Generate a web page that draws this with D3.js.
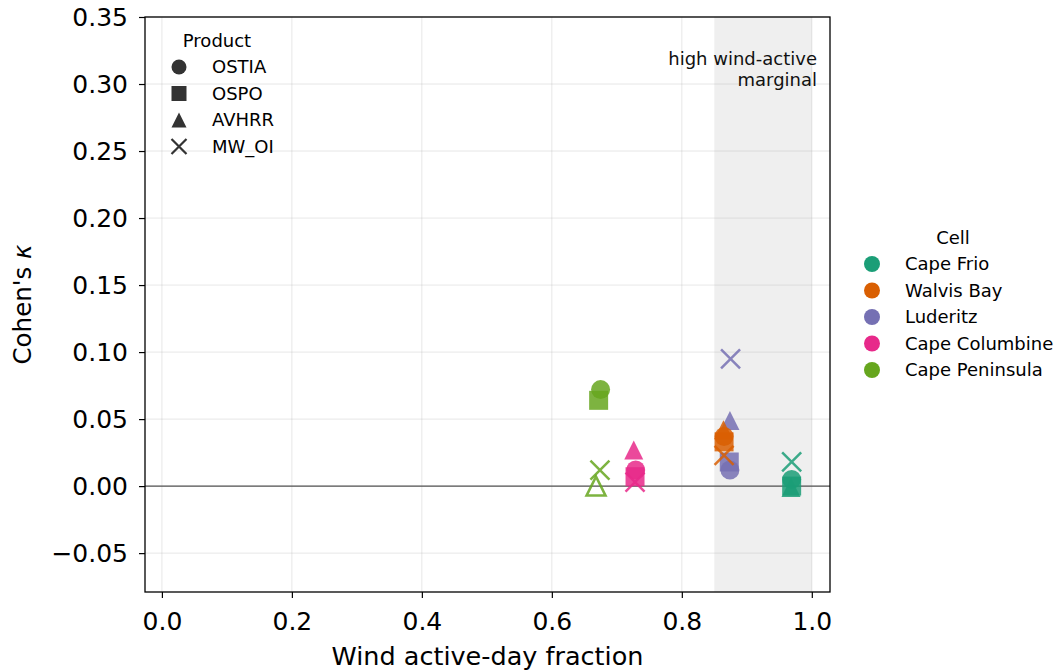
<!DOCTYPE html>
<html>
<head>
<meta charset="utf-8">
<script src="https://cdn.jsdelivr.net/npm/d3@7"></script>
<style>
  body { margin: 0; background: #fff; }
  svg { font-family: "DejaVu Sans", sans-serif; }
</style>
</head>
<body>
<svg id="chart" width="1055" height="672"></svg>
<script>
// data
const cells = ["Cape Frio", "Walvis Bay", "Luderitz", "Cape Columbine", "Cape Peninsula"];
const cellColors = ["#1b9e77", "#d95f02", "#7570b3", "#e7298a", "#66a61e"];
const products = ["OSTIA", "OSPO", "AVHRR", "MW_OI"];
const productShapes = ["circle", "square", "triangle", "x"];

// wind active-day fraction, one row per cell, one column per product
const windFraction = [
  [0.969, 0.969, 0.968, 0.969],
  [0.865, 0.865, 0.864, 0.865],
  [0.874, 0.873, 0.874, 0.875],
  [0.729, 0.728, 0.726, 0.728],
  [0.675, 0.672, 0.668, 0.674]
];
// Cohen's kappa
const kappa = [
  [0.005, 0.000, -0.001, 0.018],
  [0.037, 0.033, 0.042, 0.023],
  [0.012, 0.018, 0.049, 0.095],
  [0.012, 0.007, 0.027, 0.003],
  [0.072, 0.064, 0.000, 0.012]
];
// points drawn hollow  [cell, product]
const hollowPoints = [[4, 2]];

const xTicks = [0.0, 0.2, 0.4, 0.6, 0.8, 1.0];
const yTicks = [-0.05, 0.00, 0.05, 0.10, 0.15, 0.20, 0.25, 0.30, 0.35];
const band = [0.85, 1.0];

const svg = d3.select("#chart");
const margin = {left: 145, right: 1055 - 830, top: 17, bottom: 672 - 592};
const W = 1055, H = 672;

const x = d3.scaleLinear().domain([-0.026, 1.028]).range([margin.left, W - margin.right]);
const y = d3.scaleLinear().domain([-0.079, 0.35]).range([H - margin.bottom, margin.top]);

// shaded band
svg.append("rect")
  .attr("x", x(band[0])).attr("y", margin.top)
  .attr("width", x(band[1]) - x(band[0]))
  .attr("height", y.range()[0] - margin.top)
  .attr("fill", "#efefef");

// grid
const grid = svg.append("g").attr("stroke", "#b0b0b0").attr("stroke-opacity", 0.3).attr("stroke-width", 1);
grid.selectAll(".gx").data(xTicks).enter().append("line")
  .attr("x1", d => x(d)).attr("x2", d => x(d))
  .attr("y1", margin.top).attr("y2", y.range()[0]);
grid.selectAll(".gy").data(yTicks).enter().append("line")
  .attr("y1", d => y(d)).attr("y2", d => y(d))
  .attr("x1", margin.left).attr("x2", W - margin.right);

// zero line
svg.append("line")
  .attr("x1", margin.left).attr("x2", W - margin.right)
  .attr("y1", y(0)).attr("y2", y(0))
  .attr("stroke", "#555").attr("stroke-width", 1.2);

// annotation
const note = svg.append("text")
  .attr("text-anchor", "end").attr("font-size", 18).attr("fill", "#111");
note.append("tspan").attr("x", 817).attr("y", 65).text("high wind-active");
note.append("tspan").attr("x", 817).attr("y", 86).text("marginal");

// marker paths
function markerPath(shape, s) {
  const h = s / 2;
  if (shape === "circle") return d3.symbol(d3.symbolCircle, Math.PI * h * h)();
  if (shape === "square") return `M${-h},${-h}H${h}V${h}H${-h}Z`;
  if (shape === "triangle") return `M0,${-h}L${h},${h}L${-h},${h}Z`;
  return `M${-h},${-h}L${h},${h}M${-h},${h}L${h},${-h}`;
}

// points: south to north so northern cells sit on top
const points = [];
[4, 3, 2, 1, 0].forEach(ci => {
  products.forEach((p, pi) => {
    points.push({ci, pi, wx: windFraction[ci][pi], k: kappa[ci][pi],
      hollow: hollowPoints.some(h => h[0] === ci && h[1] === pi)});
  });
});

const mk = 19;
svg.append("g").selectAll("path").data(points).enter().append("path")
  .attr("transform", d => `translate(${x(d.wx)},${y(d.k)})`)
  .attr("d", d => markerPath(productShapes[d.pi], mk))
  .attr("fill", d => (productShapes[d.pi] === "x" || d.hollow) ? "none" : cellColors[d.ci])
  .attr("stroke", d => (productShapes[d.pi] === "x" || d.hollow) ? cellColors[d.ci] : "none")
  .attr("stroke-width", 2.5)
  .attr("opacity", 0.85);

// axes
const xAxis = svg.append("g")
  .attr("transform", `translate(0,${y.range()[0]})`)
  .call(d3.axisBottom(x).tickValues(xTicks).tickFormat(d3.format(".1f")).tickSize(6).tickPadding(14));
const yAxis = svg.append("g")
  .attr("transform", `translate(${margin.left},0)`)
  .call(d3.axisLeft(y).tickValues(yTicks).tickFormat(d => d3.format(".2f")(d).replace("-", "\u2212")).tickSize(6).tickPadding(11));
[xAxis, yAxis].forEach(a => {
  a.selectAll(".domain").remove();
  a.selectAll(".tick line").attr("stroke", "#000").attr("stroke-width", 1.2);
  a.selectAll(".tick text").attr("font-size", 25).attr("fill", "#000").attr("font-family", "DejaVu Sans");
});

// frame
svg.append("rect")
  .attr("x", margin.left).attr("y", margin.top)
  .attr("width", W - margin.right - margin.left)
  .attr("height", y.range()[0] - margin.top)
  .attr("fill", "none").attr("stroke", "#000").attr("stroke-width", 1.3);

// axis labels
svg.append("text")
  .attr("x", (margin.left + W - margin.right) / 2).attr("y", 665)
  .attr("text-anchor", "middle").attr("font-size", 25.5)
  .text("Wind active-day fraction");
const yl = svg.append("text")
  .attr("transform", `translate(31,${(margin.top + y.range()[0]) / 2}) rotate(-90)`)
  .attr("text-anchor", "middle").attr("font-size", 24.5);
yl.append("tspan").text("Cohen's ");
yl.append("tspan").attr("font-style", "italic").text("\u03ba");

// product legend
const pl = svg.append("g").attr("font-size", 18);
pl.append("text").attr("x", 217).attr("y", 47).attr("text-anchor", "middle").text("Product");
products.forEach((p, i) => {
  const yy = 67 + i * 26.5;
  pl.append("path")
    .attr("transform", `translate(179,${yy})`)
    .attr("d", markerPath(productShapes[i], 15))
    .attr("fill", productShapes[i] === "x" ? "none" : "#333")
    .attr("stroke", productShapes[i] === "x" ? "#333" : "none")
    .attr("stroke-width", 2.2);
  pl.append("text").attr("x", 212).attr("y", yy).attr("dy", "0.36em").text(p);
});

// cell legend
const cl = svg.append("g").attr("font-size", 18);
cl.append("text").attr("x", 953).attr("y", 244).attr("text-anchor", "middle").text("Cell");
cells.forEach((c, i) => {
  const yy = 264 + i * 26.5;
  cl.append("circle").attr("cx", 872).attr("cy", yy).attr("r", 8).attr("fill", cellColors[i]);
  cl.append("text").attr("x", 905).attr("y", yy).attr("dy", "0.36em").text(c);
});
</script>
</body>
</html>
